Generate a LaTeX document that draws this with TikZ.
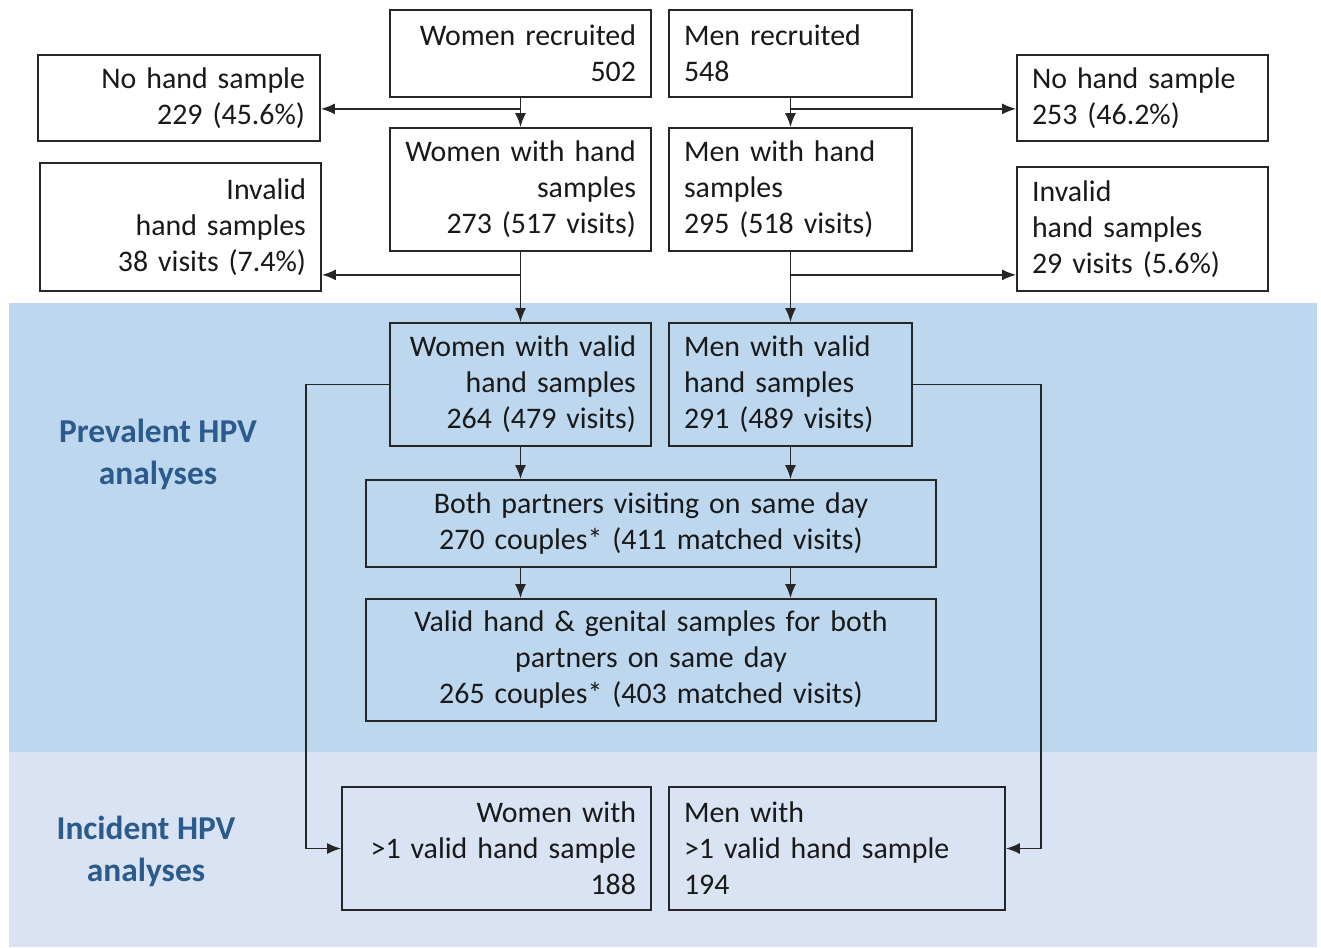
\documentclass[tikz,border=0pt]{standalone}
\usepackage{fontspec}
\setmainfont{Carlito}
\usetikzlibrary{arrows.meta,calc}
\definecolor{prevbg}{HTML}{BDD7EE}
\definecolor{incbg}{HTML}{DAE3F3}
\definecolor{labelc}{HTML}{2B5B8C}
\definecolor{linec}{HTML}{262626}
\tikzset{
  box/.style={draw=linec, line width=1pt, inner xsep=0.3cm, inner ysep=0pt,
    text=black!90, font=\fontsize{17}{20.5}\selectfont},
  wide/.style={minimum width=5.22cm, text width=4.62cm},
  conn/.style={draw=linec, line width=1pt, ->},
  grouplabel/.style={text=labelc, align=center, font=\fontsize{19}{24}\selectfont\bfseries}
}
\begin{document}
\begin{tikzpicture}[x=0.02cm, y=-0.02cm, >={Latex[length=0.28cm,width=0.22cm]}]
	\useasboundingbox (0,0) rectangle (1321,947);
	% background bands
	\fill[prevbg] (9,303) rectangle (1317,752);
	\fill[incbg] (9,752) rectangle (1317,947);
	\node[grouplabel] (prev) at (158,454) {Prevalent HPV\\analyses};
	\node[grouplabel] (inc) at (146,851) {Incident HPV\\analyses};
	% recruitment
	\node[box, fill=white, wide, minimum height=1.74cm, align=right] (wrec) at (520.5,53.5) {Women recruited\\502};
	\node[box, fill=white, minimum width=4.86cm, text width=4.26cm, minimum height=1.74cm, align=left] (mrec) at (790.5,53.5) {Men recruited\\548};
	\node[box, fill=white, minimum width=5.64cm, text width=5.04cm, minimum height=1.72cm, align=right] (nhl) at (179,98) {No hand sample\\229 (45.6\%)};
	\node[box, fill=white, minimum width=5.02cm, text width=4.42cm, minimum height=1.72cm, align=left] (nhr) at (1142.5,98) {No hand sample\\253 (46.2\%)};
	% hand samples
	\node[box, fill=white, wide, minimum height=2.46cm, align=right] (whand) at (520.5,189.5) {Women with hand\\samples\\273 (517 visits)};
	\node[box, fill=white, minimum width=4.86cm, text width=4.26cm, minimum height=2.46cm, align=left] (mhand) at (790.5,189.5) {Men with hand\\samples\\295 (518 visits)};
	\node[box, fill=white, minimum width=5.62cm, text width=5.02cm, minimum height=2.56cm, align=right] (invl) at (180.5,227) {Invalid\\hand samples\\38 visits (7.4\%)};
	\node[box, fill=white, minimum width=5.02cm, text width=4.42cm, minimum height=2.48cm, align=left] (invr) at (1142.5,229) {Invalid\\hand samples\\29 visits (5.6\%)};
	% valid samples
	\node[box, wide, minimum height=2.46cm, align=right] (wvalid) at (520.5,384.5) {Women with valid\\hand samples\\264 (479 visits)};
	\node[box, minimum width=4.86cm, text width=4.26cm, minimum height=2.46cm, align=left] (mvalid) at (790.5,384.5) {Men with valid\\hand samples\\291 (489 visits)};
	\node[box, minimum width=11.4cm, text width=10.8cm, minimum height=1.74cm, align=center] (both) at (651,523.5) {Both partners visiting on same day\\270 couples* (411 matched visits)};
	\node[box, minimum width=11.4cm, text width=10.8cm, minimum height=2.44cm, align=center] (genital) at (651,660) {Valid hand \& genital samples for both\\partners on same day\\265 couples* (403 matched visits)};
	% incident
	\node[box, minimum width=6.18cm, text width=5.58cm, minimum height=2.46cm, align=right] (wmore) at (496.5,848.5) {Women with\\>1 valid hand sample\\188};
	\node[box, minimum width=6.72cm, text width=6.12cm, minimum height=2.46cm, align=left] (mmore) at (837,848.5) {Men with\\>1 valid hand sample\\194};
	% connectors
	\coordinate (wsplit1) at ($(wrec.south)+(0,11)$);
	\coordinate (msplit1) at ($(mrec.south)+(0,11)$);
	\coordinate (wsplit2) at ($(whand.south)+(0,23)$);
	\coordinate (msplit2) at ($(mhand.south)+(0,23)$);
	\draw[conn] (wrec.south) -- (whand.north);
	\draw[conn] (wsplit1) -- (wsplit1 -| nhl.east);
	\draw[conn] (mrec.south) -- (mhand.north);
	\draw[conn] (msplit1) -- (msplit1 -| nhr.west);
	\draw[conn] (whand.south) -- (wvalid.north);
	\draw[conn] (wsplit2) -- (wsplit2 -| invl.east);
	\draw[conn] (mhand.south) -- (mvalid.north);
	\draw[conn] (msplit2) -- (msplit2 -| invr.west);
	\draw[conn] (wvalid.south) -- (wvalid.south |- both.north);
	\draw[conn] (mvalid.south) -- (mvalid.south |- both.north);
	\draw[conn] (wvalid.south |- both.south) -- (wvalid.south |- genital.north);
	\draw[conn] (mvalid.south |- both.south) -- (mvalid.south |- genital.north);
	\draw[conn] (wvalid.west) -- ++(-83,0) |- (wmore.west);
	\draw[conn] (mvalid.east) -- ++(128,0) |- (mmore.east);
\end{tikzpicture}
\end{document}
